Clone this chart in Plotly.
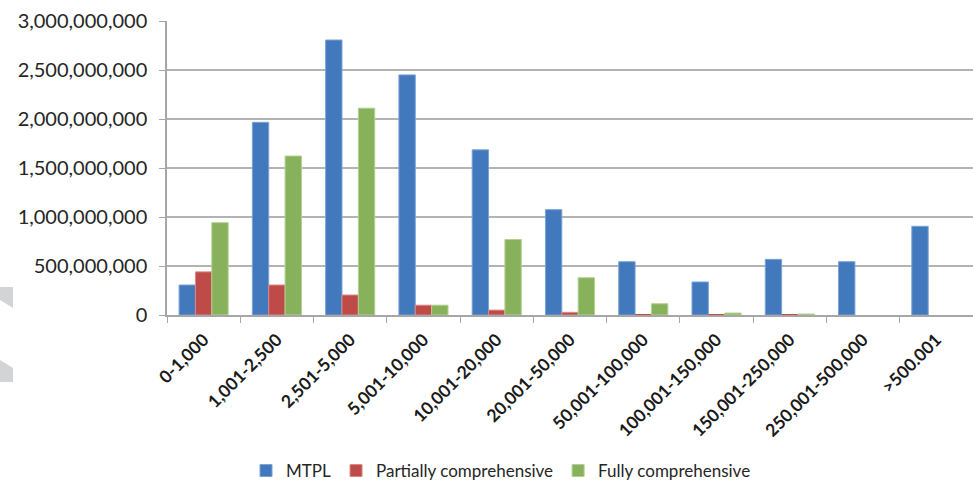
import plotly.graph_objects as go

categories = ["0-1,000", "1,001-2,500", "2,501-5,000", "5,001-10,000", "10,001-20,000",
              "20,001-50,000", "50,001-100,000", "100,001-150,000", "150,001-250,000",
              "250,001-500,000", ">500.001"]
mtpl = [306e6, 1966e6, 2806e6, 2450e6, 1685e6, 1075e6, 544e6, 337e6, 568e6, 544e6, 905e6]
partial = [440e6, 306e6, 204e6, 100e6, 50e6, 27e6, 3e6, 1e6, 0.5e6, 0, 0]
fully = [942e6, 1622e6, 2110e6, 100e6, 770e6, 380e6, 115e6, 20e6, 10e6, 0, 0]
y_ticks = [0, 500e6, 1000e6, 1500e6, 2000e6, 2500e6, 3000e6]
y_labels = ["0", "500,000,000", "1,000,000,000", "1,500,000,000", "2,000,000,000",
            "2,500,000,000", "3,000,000,000"]

W, H = 973, 486
L, R, T, B = 167, 0, 21, 171
pw, ph = W - L - R, H - T - B

def px(x):
    return (x - L) / pw

def py(y):
    return (H - B - y) / ph

fig = go.Figure()
series = [("MTPL", mtpl, "#4279BC", "#7aa3d6"),
          ("Partially comprehensive", partial, "#BE4B48", "#d98a88"),
          ("Fully comprehensive", fully, "#88B15C", "#b2d08f")]
for name, vals, col, lcol in series:
    lw = [1 if v >= 5e6 else 0 for v in vals]
    fig.add_trace(go.Bar(x=categories, y=vals, name=name,
                         marker=dict(color=col, line=dict(color=lcol, width=lw))))

shapes = []
for pts in ([(0, 287), (13, 287), (13, 308), (0, 300)],
            [(0, 360), (13, 368), (13, 382), (0, 382)]):
    path = "M " + " L ".join(f"{px(a)},{py(b)}" for a, b in pts) + " Z"
    shapes.append(dict(type="path", path=path, xref="paper", yref="paper",
                       fillcolor="#d2d4d6", line=dict(width=0), layer="below"))

fig.update_layout(
    width=W, height=H,
    margin=dict(l=L, r=R, t=T, b=B, autoexpand=False),
    barmode="group", bargap=0.33, bargroupgap=0,
    plot_bgcolor="white", paper_bgcolor="white",
    font=dict(family="Lato, Open Sans, sans-serif", color="#262626"),
    shapes=shapes,
    legend=dict(orientation="h", x=px(501), xanchor="center", y=py(489), yanchor="bottom",
                font=dict(size=17, family="Lato, sans-serif"), traceorder="normal",
                itemwidth=30),
    xaxis=dict(showline=True, linecolor="#a6a6a6", linewidth=1.5, automargin=False,
               ticks="outside", tickson="boundaries", ticklen=6, tickcolor="#a6a6a6",
               tickangle=-45, ticklabelstandoff=6,
               tickfont=dict(size=17.5, family="Lato, sans-serif", weight="bold", color="#1a1a1a"),
               range=[-0.5, 10.5]),
    yaxis=dict(range=[0, 3e9], tickvals=y_ticks, ticktext=y_labels, automargin=False,
               showgrid=True, gridcolor="#b3b3b3", gridwidth=1.5,
               showline=True, linecolor="#a6a6a6", linewidth=1.5,
               ticks="outside", ticklen=6, tickcolor="#a6a6a6", ticklabelstandoff=8,
               tickfont=dict(size=20, family="Lato, sans-serif"), zeroline=False),
)

fig.write_html("out.html")
